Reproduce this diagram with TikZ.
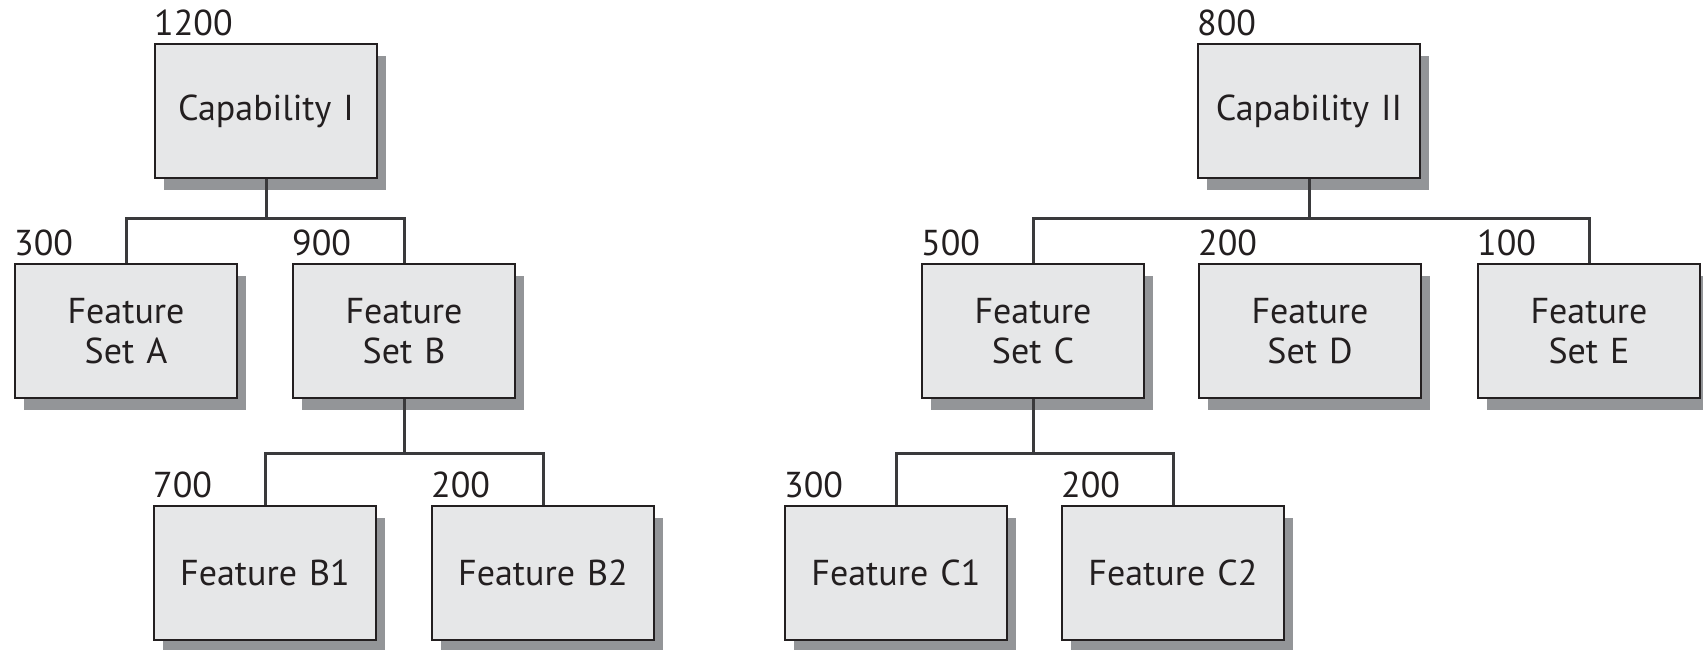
\documentclass[tikz,border=0pt]{standalone}
\usepackage{fontspec}
\setmainfont{PT Sans}
\usetikzlibrary{shadows,calc}
\definecolor{boxfill}{HTML}{E6E7E8}
\definecolor{shadowgray}{HTML}{939598}
\definecolor{ink}{HTML}{231F20}
\definecolor{wire}{HTML}{3A3A3C}
\tikzset{
  box/.style={draw=ink, line width=2pt, fill=boxfill, anchor=north west,
    minimum width=222pt, minimum height=134pt, text width=200pt, align=center,
    inner sep=0pt, font=\fontsize{36}{40}\selectfont, text=ink,
    drop shadow={shadow xshift=9pt, shadow yshift=-12pt, fill=shadowgray, opacity=1}},
  lbl/.style={anchor=base west, font=\fontsize{36}{40}\selectfont, text=ink, inner sep=0pt},
  link/.style={draw=wire, line width=3pt}
}
\begin{document}
\begin{tikzpicture}[x=1pt, y=-1pt]
\useasboundingbox (0,0) rectangle (1703,649);

% first capability tree
\node[box] (capI) at (154,43) {Capability I};
\node[box] (fsA) at (14,263) {Feature\\Set A};
\node[box] (fsB) at (292,263) {Feature\\Set B};
\node[box] (fB1) at (153,505) {Feature B1};
\node[box] (fB2) at (431,505) {Feature B2};

% second capability tree
\node[box] (capII) at (1197,43) {Capability II};
\node[box] (fsC) at (921,263) {Feature\\Set C};
\node[box] (fsD) at (1198,263) {Feature\\Set D};
\node[box] (fsE) at (1477,263) {Feature\\Set E};
\node[box] (fC1) at (784,505) {Feature C1};
\node[box] (fC2) at (1061,505) {Feature C2};

% estimates above each box
\foreach \n/\v in {capI/1200, fsA/300, fsB/900, fB1/700, fB2/200,
                   capII/800, fsC/500, fsD/200, fsE/100, fC1/300, fC2/200}
  \node[lbl] (v-\n) at ($(\n.north west)+(0,-8)$) {\v};

% connectors
\coordinate (jI) at ($(capI.south)+(0,39)$);
\draw[link] (capI.south) -- (jI) -| (fsA.north);
\draw[link] (jI) -| (fsB.north);
\coordinate (jB) at ($(fsB.south)+(0,54)$);
\draw[link] (fsB.south) -- (jB) -| (fB1.north);
\draw[link] (jB) -| (fB2.north);

\coordinate (jII) at ($(capII.south)+(0,39)$);
\draw[link] (capII.south) -- (jII) -| (fsC.north);
\draw[link] (jII) -| (fsE.north);
\coordinate (jC) at ($(fsC.south)+(0,54)$);
\draw[link] (fsC.south) -- (jC) -| (fC1.north);
\draw[link] (jC) -| (fC2.north);
\end{tikzpicture}
\end{document}
